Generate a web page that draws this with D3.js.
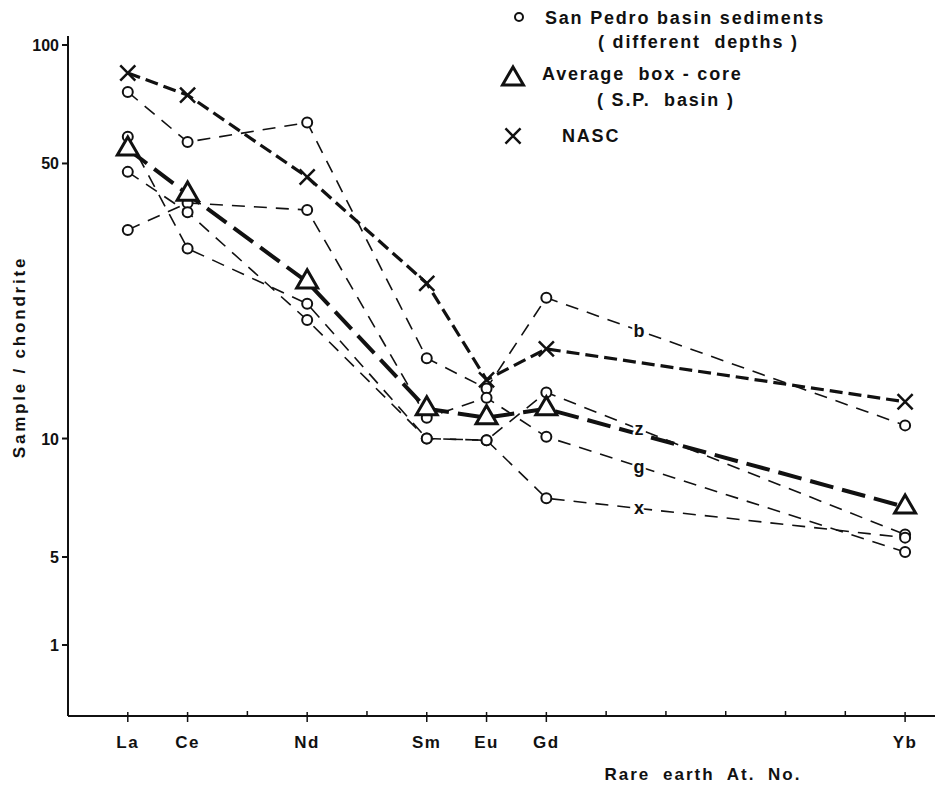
<!DOCTYPE html>
<html>
<head>
<meta charset="utf-8">
<script src="https://cdnjs.cloudflare.com/ajax/libs/d3/7.8.5/d3.min.js"></script>
<style>
  body { margin: 0; background: #fff; }
  text { font-family: "Liberation Sans", Arial, sans-serif; font-weight: bold; fill: #111; }
</style>
</head>
<body>
<svg width="935" height="785"></svg>
<script>
// Rare earth elements and their atomic numbers
var elements = ["La", "Ce", "Nd", "Sm", "Eu", "Gd", "Yb"];
var atomicNo = [57, 58, 60, 62, 63, 64, 70];

// San Pedro basin sediments (different depths), sample / chondrite
var sampleB = [76, 56.7, 63.5, 16.0, 13.4, 22.8, 10.8];
var sampleZ = [58.5, 30.4, 22.0, 10.0, 9.9, 13.1, 5.7];
var sampleG = [33.9, 39.7, 38.1, 11.3, 12.7, 10.1, 5.15];
var sampleX = [47.6, 37.6, 20.0, 10.0, 9.9, 7.05, 5.6];
var sampleNames = ["b", "z", "g", "x"];

// Average box-core (S.P. basin)
var boxCore = [54.4, 41.8, 25.0, 11.9, 11.3, 11.9, 6.7];

// NASC
var nasc = [84.9, 74.6, 46.2, 24.8, 14.1, 16.9, 12.4];

var yTicks = [1, 5, 10, 50, 100];
var xMinorTicks = [59, 61, 65, 66, 67, 68, 69];

var svg = d3.select("svg");

var x = d3.scaleLinear().domain([56, 70.5]).range([68, 935]);
// the original axis is broken below 5: the "1" tick sits closer than a true log step
var y = d3.scaleLog().domain([1, 5, 100]).range([645, 557, 45]);

function pts(vals) {
    return vals.map(function(v, i) { return [x(atomicNo[i]), y(v)]; });
}
var line = d3.line();

// Y-Axis
svg.append("line")
    .attr("x1", x(56)).attr("x2", x(56))
    .attr("y1", 36).attr("y2", 716)
    .attr("stroke", "#111").attr("stroke-width", 2);
svg.selectAll("line.ytick")
    .data(yTicks)
    .enter().append("line")
    .attr("class", "ytick")
    .attr("x1", x(56) - 6).attr("x2", x(56))
    .attr("y1", function(d) { return y(d); })
    .attr("y2", function(d) { return y(d); })
    .attr("stroke", "#111").attr("stroke-width", 2);
svg.selectAll("text.ylab")
    .data(yTicks)
    .enter().append("text")
    .attr("class", "ylab")
    .attr("x", x(56) - 9)
    .attr("y", function(d) { return y(d) + 6; })
    .attr("text-anchor", "end")
    .style("font-size", "16px")
    .text(function(d) { return d; });

// X-Axis
svg.append("line")
    .attr("x1", x(56)).attr("x2", 935)
    .attr("y1", 716).attr("y2", 716)
    .attr("stroke", "#111").attr("stroke-width", 2);
svg.selectAll("line.xtick")
    .data(atomicNo)
    .enter().append("line")
    .attr("class", "xtick")
    .attr("x1", function(d) { return x(d); })
    .attr("x2", function(d) { return x(d); })
    .attr("y1", 712).attr("y2", 722)
    .attr("stroke", "#111").attr("stroke-width", 1.5);
svg.selectAll("line.xminor")
    .data(xMinorTicks)
    .enter().append("line")
    .attr("class", "xminor")
    .attr("x1", function(d) { return x(d); })
    .attr("x2", function(d) { return x(d); })
    .attr("y1", 711).attr("y2", 716)
    .attr("stroke", "#111").attr("stroke-width", 1.5);
svg.selectAll("text.xlab")
    .data(elements)
    .enter().append("text")
    .attr("class", "xlab")
    .attr("x", function(d, i) { return x(atomicNo[i]); })
    .attr("y", 748)
    .attr("text-anchor", "middle")
    .style("font-size", "17px")
    .style("letter-spacing", "1.5px")
    .text(function(d) { return d; });

// Axis labels
svg.append("text")
    .attr("x", 703).attr("y", 780)
    .attr("text-anchor", "middle")
    .style("font-size", "17px")
    .style("letter-spacing", "2px")
    .style("word-spacing", "6px")
    .text("Rare earth At. No.");
svg.append("text")
    .attr("text-anchor", "middle")
    .attr("transform", "translate(25,357)rotate(-90)")
    .style("font-size", "17px")
    .style("letter-spacing", "2.8px")
    .text("Sample / chondrite");

// Sample lines
var samples = [sampleB, sampleZ, sampleG, sampleX];
svg.selectAll("path.sample")
    .data(samples)
    .enter().append("path")
    .attr("class", "sample")
    .attr("d", function(d) { return line(pts(d)); })
    .attr("fill", "none")
    .attr("stroke", "#111")
    .attr("stroke-width", 1.6)
    .attr("stroke-dasharray", "13,9");

// Average box-core line
svg.append("path")
    .attr("d", line(pts(boxCore)))
    .attr("fill", "none")
    .attr("stroke", "#111")
    .attr("stroke-width", 4)
    .attr("stroke-dasharray", "24,9");

// NASC line
svg.append("path")
    .attr("d", line(pts(nasc)))
    .attr("fill", "none")
    .attr("stroke", "#111")
    .attr("stroke-width", 3.2)
    .attr("stroke-dasharray", "13,6");

// Letters on the sample lines between Gd and Yb
var labelAt = 65.55;
svg.selectAll("text.slab")
    .data(samples)
    .enter().append("text")
    .attr("class", "slab")
    .attr("x", x(labelAt))
    .attr("y", function(d) {
        var t = (labelAt - 64) / (70 - 64);
        var v = Math.exp(Math.log(d[5]) + t * (Math.log(d[6]) - Math.log(d[5])));
        return y(v) + 6;
    })
    .attr("text-anchor", "middle")
    .style("font-size", "18px")
    .style("paint-order", "stroke")
    .style("stroke", "#fff")
    .style("stroke-width", 5)
    .text(function(d, i) { return sampleNames[i]; });

// Circles
samples.forEach(function(s) {
    svg.selectAll(null)
        .data(pts(s))
        .enter().append("circle")
        .attr("cx", function(d) { return d[0]; })
        .attr("cy", function(d) { return d[1]; })
        .attr("r", 5)
        .attr("fill", "#fff")
        .attr("stroke", "#111")
        .attr("stroke-width", 2);
});

// Triangles
var tri = d3.symbol().type(d3.symbolTriangle).size(190);
svg.selectAll("path.tri")
    .data(pts(boxCore))
    .enter().append("path")
    .attr("class", "tri")
    .attr("transform", function(d) { return "translate(" + d[0] + "," + d[1] + ")"; })
    .attr("d", tri)
    .attr("fill", "#fff")
    .attr("stroke", "#111")
    .attr("stroke-width", 3);

// Crosses
var cross = d3.symbol().type(d3.symbolX).size(150);
svg.selectAll("path.cross")
    .data(pts(nasc))
    .enter().append("path")
    .attr("class", "cross")
    .attr("transform", function(d) { return "translate(" + d[0] + "," + d[1] + ")"; })
    .attr("d", cross)
    .attr("fill", "none")
    .attr("stroke", "#111")
    .attr("stroke-width", 2.5);

// Legend
var legend = svg.append("g");
legend.append("circle")
    .attr("cx", 519).attr("cy", 17).attr("r", 4)
    .attr("fill", "#fff").attr("stroke", "#111").attr("stroke-width", 2);
legend.append("path")
    .attr("transform", "translate(513,79)")
    .attr("d", tri)
    .attr("fill", "#fff").attr("stroke", "#111").attr("stroke-width", 3);
legend.append("path")
    .attr("transform", "translate(513,136)")
    .attr("d", cross)
    .attr("fill", "none").attr("stroke", "#111").attr("stroke-width", 2.5);

var legendText = [
    ["San Pedro basin sediments", 545, 24],
    ["( different  depths )", 598, 48],
    ["Average  box - core", 542, 80],
    ["( S.P.  basin )", 597, 106],
    ["NASC", 562, 142]
];
legend.selectAll("text")
    .data(legendText)
    .enter().append("text")
    .attr("x", function(d) { return d[1]; })
    .attr("y", function(d) { return d[2]; })
    .style("font-size", "18px")
    .style("letter-spacing", "1.8px")
    .style("white-space", "pre")
    .text(function(d) { return d[0]; });
</script>
</body>
</html>
